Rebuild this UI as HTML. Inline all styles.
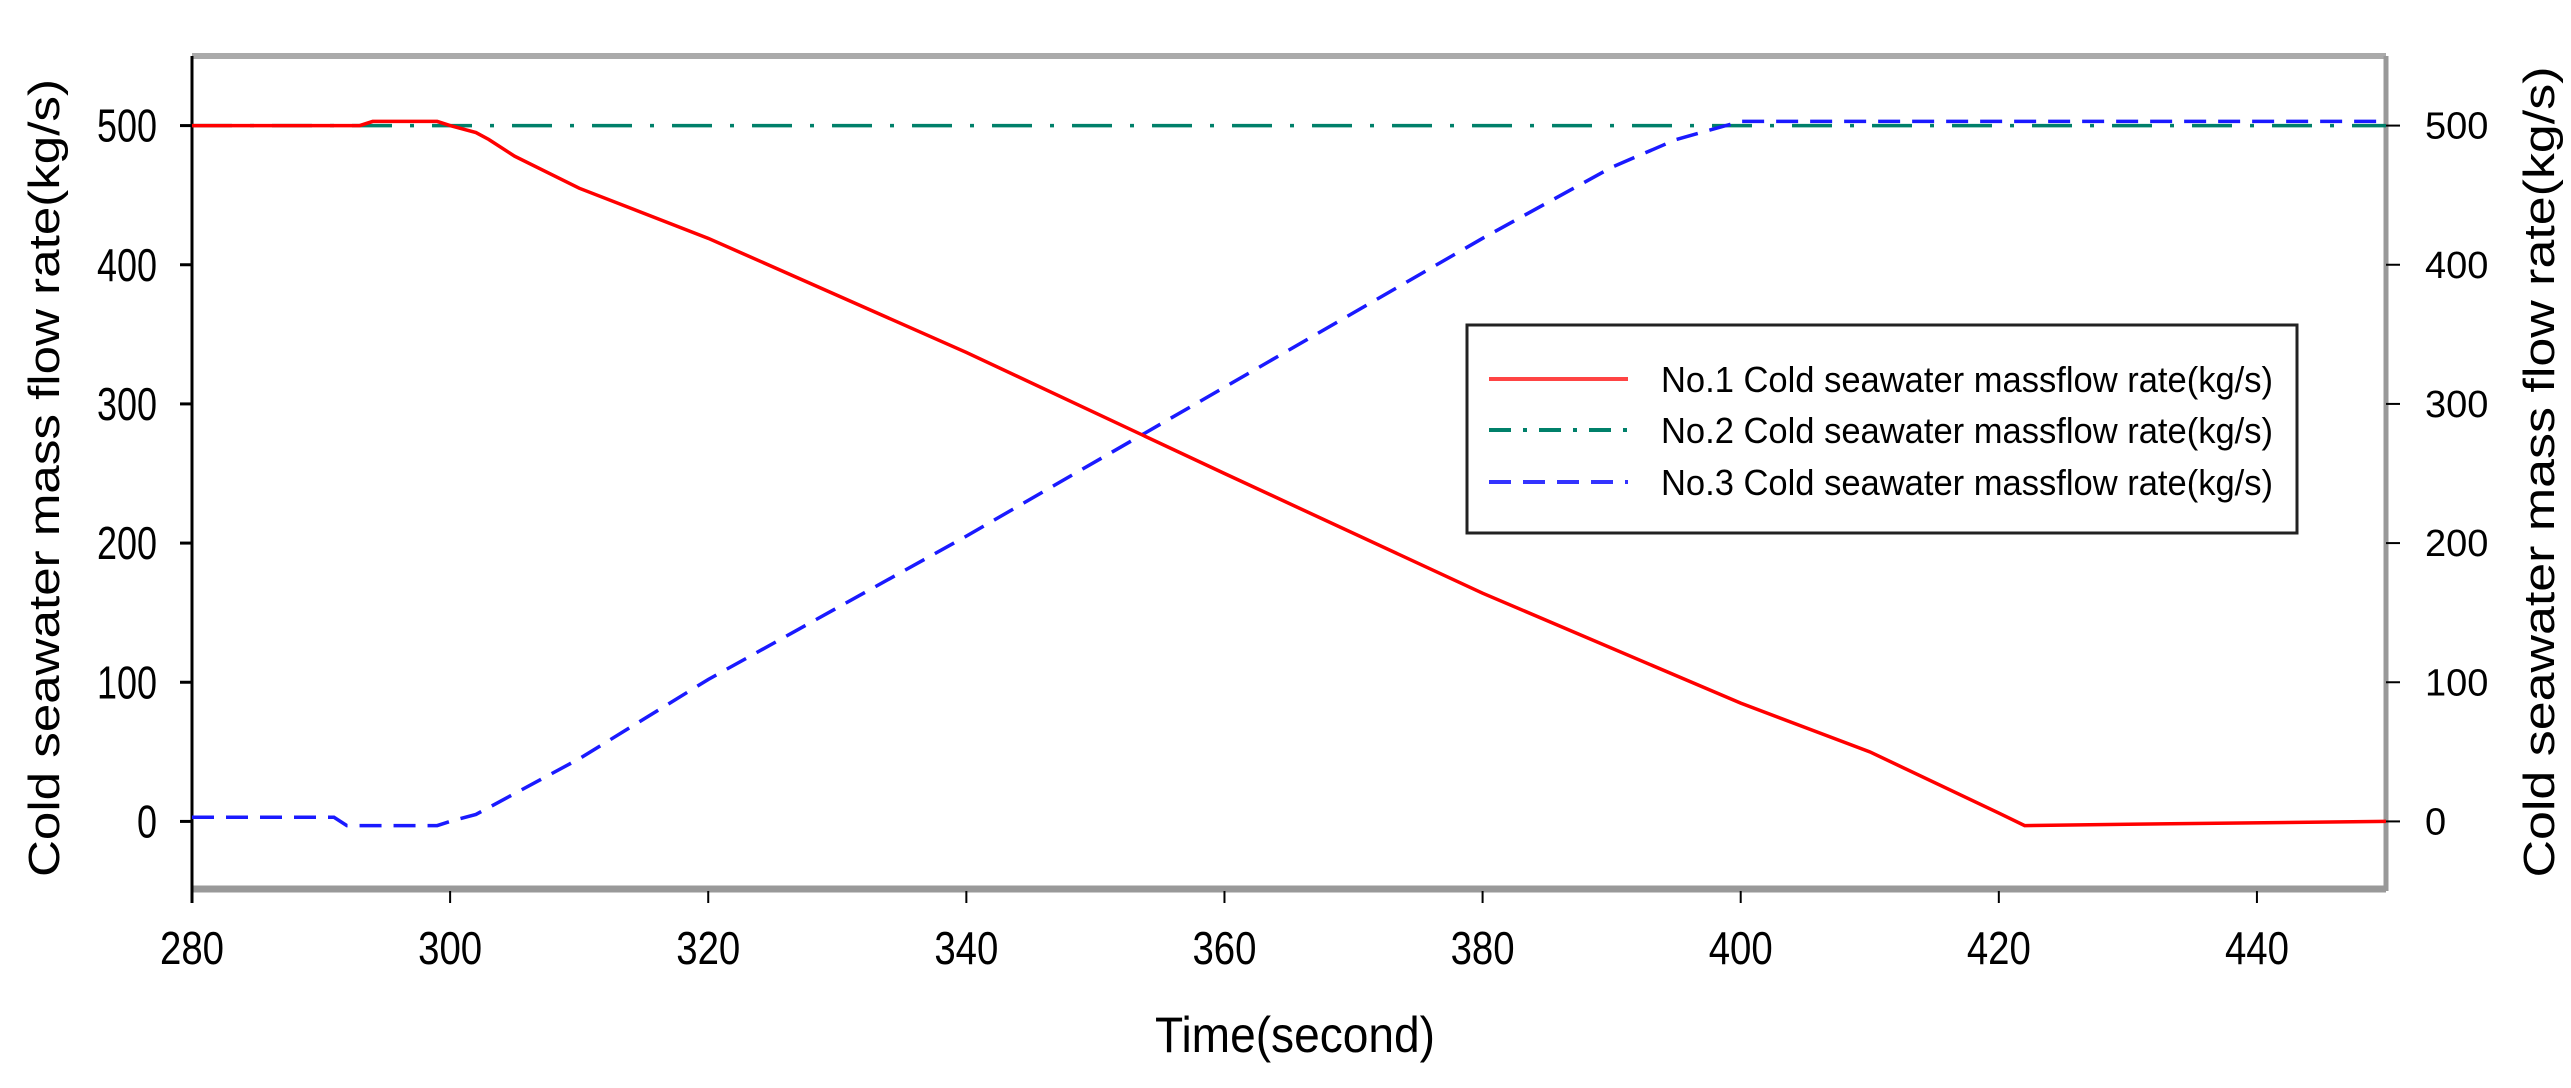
<!DOCTYPE html>
<html><head><meta charset="utf-8"><style>
html,body{margin:0;padding:0;background:#fff;width:2571px;height:1088px;overflow:hidden}
text{font-family:"Liberation Sans",sans-serif;fill:#000}
</style></head><body>
<svg id="chart" width="2571" height="1088" viewBox="0 0 2571 1088" xmlns="http://www.w3.org/2000/svg">
<g id="plot"></g>
</svg>
<script>
const xTicks=[280,300,320,340,360,380,400,420,440];
const yTicks=[0,100,200,300,400,500];
const t1=[280,293,294,299,300,302,303,305,310,320,340,360,380,400,410,420,422,430,450];
const v1=[500,500,503,503,500,495,490,478,455,419,337,250,164,85,50,6,-3,-2,0];
const t2=[280,450];
const v2=[500,500];
const t3=[280,291,292,299,300,302,310,320,340,360,380,390,395,400,450];
const v3=[3,3,-3,-3,0,5,45,102,205,312,419,470,490,503,503];
const seriesNames=["No.1 Cold seawater massflow rate(kg/s)","No.2 Cold seawater massflow rate(kg/s)","No.3 Cold seawater massflow rate(kg/s)"];

const NS="http://www.w3.org/2000/svg";
const L=192,R=2386,T=56,B=891;
const X=t=>L+(t-280)/(450-280)*(R-L);
const Y=v=>T+(550-v)/(600)*(B-T);
const g=document.getElementById('plot');
function mk(tag,attrs,parent){const e=document.createElementNS(NS,tag);for(const k in attrs)e.setAttribute(k,attrs[k]);(parent||g).appendChild(e);return e;}

let e;
e=mk('line',{x1:L,y1:T,x2:R,y2:T,stroke:'#aaa','stroke-width':6});


e=mk('line',{x1:R,y1:T,x2:R,y2:B,stroke:'#999','stroke-width':5});


e=mk('line',{x1:L,y1:B-2,x2:R,y2:B-2,stroke:'#999','stroke-width':7});


e=mk('line',{x1:L,y1:T,x2:L,y2:B+12,stroke:'#000','stroke-width':3});



xTicks.forEach(t=>{
  const x=X(t);
  e=mk('line',{x1:x,y1:B,x2:x,y2:B+12,stroke:'#000','stroke-width':2});
  
  
  e=mk('text',{x:x,y:964,'font-size':46,'text-anchor':'middle',textLength:64,lengthAdjust:'spacingAndGlyphs'});
  e.textContent=t;
  
  
});
yTicks.forEach(v=>{
  const y=Y(v);
  e=mk('line',{x1:L-12,y1:y,x2:L,y2:y,stroke:'#000','stroke-width':3});
  
  
  const s=String(v);
  e=mk('text',{x:157,y:y+16,'font-size':46,'text-anchor':'end',textLength:s.length*20,lengthAdjust:'spacingAndGlyphs'});
  e.textContent=s;
  
  
  e=mk('line',{x1:R,y1:y,x2:R+14,y2:y,stroke:'#000','stroke-width':2});
  
  
  e=mk('text',{x:2425,y:y+13,'font-size':38});
  e.textContent=s;
  
  
});

function line(ts,vs,color,dash,name){
  const pts=ts.map((t,i)=>X(t)+','+Y(vs[i])).join(' ');
  const p=mk('polyline',{points:pts,fill:'none',stroke:color,'stroke-width':3.5,'stroke-dasharray':dash});
  
  
}
line(t2,v2,'#00806a','40 18 4 18','series-no2');
line(t3,v3,'#1a1aff','22 12','series-no3');
line(t1,v1,'#ff0000','none','series-no1');

const lg=mk('g',{});


e=mk('rect',{x:1467,y:325,width:830,height:208,fill:'#fff',stroke:'#222','stroke-width':3},lg);


const cols=['#ff4444','#00806a','#3333ff'],dashes=['none','22 12 4 12','22 12'],ys=[379,430,482];
seriesNames.forEach((n,i)=>{
  e=mk('line',{x1:1489,y1:ys[i],x2:1628,y2:ys[i],stroke:cols[i],'stroke-width':4,'stroke-dasharray':dashes[i]},lg);
  
  
  e=mk('text',{x:1661,y:ys[i]+13,'font-size':36,textLength:612,lengthAdjust:'spacingAndGlyphs'},lg);
  e.textContent=n;
  
  
});

e=mk('text',{x:1295,y:1052,'font-size':50,'text-anchor':'middle',textLength:280,lengthAdjust:'spacingAndGlyphs'});
e.textContent='Time(second)';


e=mk('text',{x:0,y:0,'font-size':44,'text-anchor':'middle',transform:'translate(59,478) rotate(-90)',textLength:798,lengthAdjust:'spacingAndGlyphs'});
e.textContent='Cold seawater mass flow rate(kg/s)';


e=mk('text',{x:0,y:0,'font-size':44,'text-anchor':'middle',transform:'translate(2554,472) rotate(-90)',textLength:811,lengthAdjust:'spacingAndGlyphs'});
e.textContent='Cold seawater mass flow rate(kg/s)';


</script>
</body></html>
